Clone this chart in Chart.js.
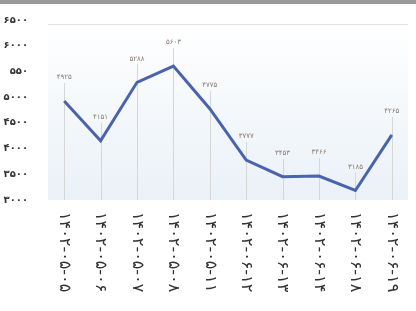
<!DOCTYPE html>
<html>
<head>
<meta charset="utf-8">
<script src="https://cdn.jsdelivr.net/npm/chart.js@4/dist/chart.umd.min.js"></script>
<style>
  html, body { margin: 0; padding: 0; background: #fff; }
  #wrap { width: 416px; height: 311px; }
</style>
</head>
<body>
<div id="wrap"><canvas id="priceChart"></canvas></div>
<script>
// dates (Persian calendar) and values
const dates = [
  "۱۴۰۲-۰۵-۰۵", "۱۴۰۲-۰۵-۰۶", "۱۴۰۲-۰۵-۰۷", "۱۴۰۲-۰۵-۰۸", "۱۴۰۲-۰۵-۱۱",
  "۱۴۰۲-۰۶-۱۲", "۱۴۰۲-۰۶-۱۳", "۱۴۰۲-۰۶-۱۴", "۱۴۰۲-۰۶-۱۸", "۱۴۰۲-۰۶-۱۹",
];
const values = [4925, 4151, 5288, 5603, 4775, 3777, 3453, 3466, 3185, 4265];
const valueLabels = ["۴۹۲۵", "۴۱۵۱", "۵۲۸۸", "۵۶۰۳", "۴۷۷۵", "۳۷۷۷", "۳۴۵۳", "۳۴۶۶", "۳۱۸۵", "۴۲۶۵"];
const yTicks = [3000, 3500, 4000, 4500, 5000, 5500, 6000, 6500];
const yTickLabels = ["۳۰۰۰", "۳۵۰۰", "۴۰۰۰", "۴۵۰۰", "۵۰۰۰", "۵۵۰", "۶۰۰۰", "۶۵۰۰"];

const FONT = "'DejaVu Sans', sans-serif";

const ctx = document.getElementById("priceChart").getContext("2d");
new Chart(ctx, {
  type: "line",
  data: {
    labels: dates,
    datasets: [
      {
        data: values,
        borderColor: "#4a63ad",
        borderWidth: 3,
        pointRadius: 0,
        tension: 0,
        fill: false,
      },
    ],
  },
  options: {
    responsive: true,
    maintainAspectRatio: false,
    animation: false,
    layout: { padding: { top: 20, right: 6, left: 0, bottom: 0 } },
    plugins: { legend: { display: false }, tooltip: { enabled: false } },
    scales: {
      x: {
        offset: true,
        grid: { display: false },
        border: { display: false },
        ticks: { display: false },
        afterFit(scale) { scale.height = 111; },
      },
      y: {
        min: 3000,
        max: 6500,
        afterBuildTicks(scale) { scale.ticks = yTicks.map((v) => ({ value: v })); },
        grid: { display: false },
        border: { display: false },
        ticks: {
          padding: 10,
          color: "#333",
          font: { family: FONT, size: 10, weight: "bold" },
          callback: (v) => yTickLabels[yTicks.indexOf(v)],
        },
        afterFit(scale) { scale.width = 46; },
      },
    },
  },
  plugins: [
    {
      id: "decor",
      beforeDraw(chart) {
        const { ctx, chartArea } = chart;
        ctx.save();
        // top grey bar
        ctx.fillStyle = "#9a9a9a";
        ctx.fillRect(0, 0, chart.width, 4);
        // plot background
        const g = ctx.createLinearGradient(0, chartArea.top, 0, chartArea.bottom);
        g.addColorStop(0, "#ffffff");
        g.addColorStop(1, "#eaf1f7");
        ctx.fillStyle = g;
        ctx.fillRect(chartArea.left + 2, chartArea.top + 4, chartArea.width - 4, chartArea.bottom - chartArea.top - 4);
        ctx.strokeStyle = "#e2e2e2";
        ctx.lineWidth = 1;
        ctx.beginPath();
        ctx.moveTo(chartArea.left + 2, chartArea.top + 4.5);
        ctx.lineTo(chartArea.right - 2, chartArea.top + 4.5);
        ctx.stroke();
        // leader lines and value labels
        const meta = chart.getDatasetMeta(0);
        ctx.font = "7px " + FONT;
        ctx.textAlign = "center";
        ctx.textBaseline = "bottom";
        meta.data.forEach((pt, i) => {
          const ly = pt.y - 20;
          ctx.strokeStyle = "#d6d6d6";
          ctx.beginPath();
          ctx.moveTo(Math.round(pt.x) + 0.5, ly + 2);
          ctx.lineTo(Math.round(pt.x) + 0.5, chartArea.bottom);
          ctx.stroke();
          ctx.fillStyle = "#8a7b70";
          ctx.fillText(valueLabels[i], pt.x, ly);
        });
        ctx.restore();
      },
      afterDraw(chart) {
        // x labels rotated clockwise, reading top to bottom
        const { ctx, chartArea, scales } = chart;
        ctx.save();
        ctx.font = "16px " + FONT;
        ctx.fillStyle = "#333";
        ctx.textAlign = "left";
        ctx.textBaseline = "middle";
        dates.forEach((d, i) => {
          const x = scales.x.getPixelForValue(i);
          ctx.save();
          ctx.translate(x, chartArea.bottom + 12);
          ctx.rotate(Math.PI / 2);
          ctx.direction = "ltr";
          ctx.fillText(d, 0, 0);
          ctx.restore();
        });
        ctx.restore();
      },
    },
  ],
});
</script>
</body>
</html>
